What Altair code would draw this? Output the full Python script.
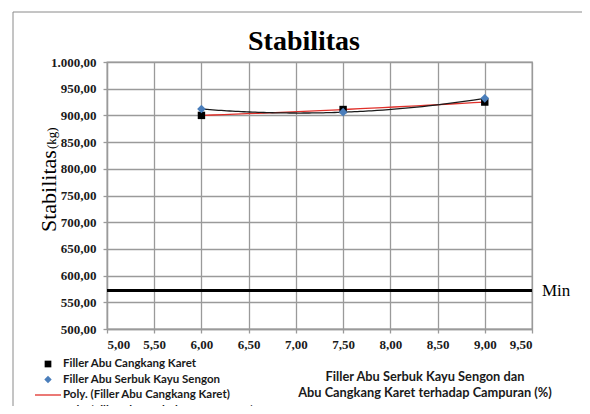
import altair as alt
import pandas as pd

# ---- data ----
x_vals = [6.00, 7.50, 9.00]
karet = [900.0, 911.0, 925.0]
sengon = [912.0, 906.0, 932.0]
min_value = 572.0
series = ["Filler Abu Cangkang Karet", "Filler Abu Serbuk Kayu Sengon"]
poly_labels = ["Poly. (Filler Abu Cangkang Karet)", "Poly. (Filler Abu Serbuk Kayu Sengon)"]
x_ticks = [5.0, 5.5, 6.0, 6.5, 7.0, 7.5, 8.0, 8.5, 9.0, 9.5]
y_ticks = [500, 550, 600, 650, 700, 750, 800, 850, 900, 950, 1000]
title_text = "Stabilitas"
y_title = ["Stabilitas", "(kg)"]
x_title = ["Filler  Abu Serbuk Kayu Sengon dan", "Abu Cangkang Karet terhadap Campuran (%)"]
min_label = "Min"

df = pd.DataFrame({
    "x": x_vals * 2,
    "y": karet + sengon,
    "series": [series[0]] * len(x_vals) + [series[1]] * len(x_vals),
})

GRID = "#9a9a9a"
SERIF = "Liberation Serif"
SANS = "Lato"
label_expr = ("replace(replace(replace(format(datum.value, ',.2f'), ',', '#'), '.', ','), '#', '.')")

xs = alt.Scale(domain=[5.0, 9.5], nice=False, zero=False)
ys = alt.Scale(domain=[500, 1000], nice=False, zero=False)

x_axis = alt.Axis(values=x_ticks, labelExpr=label_expr, title=None, grid=True)
y_axis = alt.Axis(values=y_ticks, labelExpr=label_expr, title=None, grid=True)
X = alt.X("x:Q", scale=xs, axis=x_axis)
Y = alt.Y("y:Q", scale=ys, axis=y_axis)
Yv = alt.Y("v:Q", scale=ys, axis=y_axis)

base = alt.Chart(df)

min_data = alt.Data(values=[{"v": min_value}])

rule_min = alt.Chart(min_data).mark_rule(color="#000000", strokeWidth=3).encode(y=Yv)

poly = base.transform_regression(
    "x", "y", method="poly", order=2, groupby=["series"]
).mark_line(strokeWidth=1.3).encode(
    x=X, y=Y,
    color=alt.Color("series:N", scale=alt.Scale(domain=series, range=["#e0302a", "#1a1a1a"]),
                    legend=None),
)

pts_k = base.transform_filter(alt.datum.series == series[0]).mark_point(
    shape="square", filled=True, color="#000000", size=55, opacity=1
).encode(x=X, y=Y)

pts_s = base.transform_filter(alt.datum.series == series[1]).mark_point(
    shape="diamond", filled=True, color="#4a7ebb", size=75, opacity=1
).encode(x=X, y=Y)


def one():
    return alt.Chart(alt.Data(values=[{"a": 1}]))


def text(t, x, y, **kw):
    return one().mark_text(text=t, **kw).encode(x=alt.value(x), y=alt.value(y))


layers = [rule_min, poly, pts_k, pts_s]

# outer frame
layers.append(one().mark_rect(fillOpacity=0, stroke="#8a8a8a", strokeWidth=1).encode(
    x=alt.value(-94), y=alt.value(-50), x2=alt.value(700), y2=alt.value(600)))

# title
layers.append(text(title_text, 197, -12, font=SERIF, fontSize=28, fontWeight="bold",
                   align="center", baseline="alphabetic", color="#000000"))
# y axis title (rotated)
layers.append(text(y_title[0], -51, 170, font=SERIF, fontSize=22, angle=270,
                   align="left", baseline="alphabetic", color="#000000"))
layers.append(text(y_title[1], -51, 87, font=SERIF, fontSize=13, angle=270,
                   align="left", baseline="alphabetic", color="#000000"))
# Min label
layers.append(alt.Chart(min_data).mark_text(text=min_label, font=SERIF, fontSize=17, align="left",
                                            baseline="middle", color="#000000", dx=10).encode(
    x=alt.value(425), y=Yv))
# x title
layers.append(text(x_title[0], 318, 315, font=SANS, fontSize=12.8, fontWeight="bold",
                   align="center", baseline="middle", color="#1a1a1a"))
layers.append(text(x_title[1], 318, 331, font=SANS, fontSize=12.8, fontWeight="bold",
                   align="center", baseline="middle", color="#1a1a1a"))

# legend
rows = [302, 317.5, 333, 348.5]
layers.append(one().mark_point(shape="square", filled=True, color="#000000", size=45,
                               opacity=1).encode(x=alt.value(-59), y=alt.value(rows[0])))
layers.append(one().mark_point(shape="diamond", filled=True, color="#4a7ebb", size=55,
                               opacity=1).encode(x=alt.value(-59), y=alt.value(rows[1])))
layers.append(one().mark_rule(color="#e0302a", strokeWidth=1.3).encode(
    x=alt.value(-72), x2=alt.value(-46), y=alt.value(rows[2])))
layers.append(one().mark_rule(color="#1a1a1a", strokeWidth=1.3).encode(
    x=alt.value(-72), x2=alt.value(-46), y=alt.value(rows[3])))
leg_texts = [series[0], series[1], poly_labels[0], poly_labels[1]]
for t, r in zip(leg_texts, rows):
    layers.append(text(t, -44, r, font=SANS, fontSize=11.5, fontWeight="bold",
                       align="left", baseline="middle", color="#1a1a1a"))

chart = alt.layer(*layers).properties(
    width=425, height=267,
    autosize=alt.AutoSizeParams(type="none"),
    padding={"left": 99, "top": 54, "right": 50, "bottom": 77},
    background="white",
).configure_view(
    stroke=GRID, strokeWidth=1.3
).configure_axis(
    gridColor=GRID, gridWidth=1.3, gridOpacity=1,
    domainColor=GRID, domainWidth=1.3,
    tickColor=GRID, tickWidth=1.3, tickSize=4,
    labelFont=SERIF, labelFontSize=13, labelFontWeight="bold", labelColor="#1a1a1a",
).configure_axisX(labelPadding=5).configure_axisY(labelPadding=7)

chart.save("out.html", embed_options={"renderer": "svg", "actions": False})
